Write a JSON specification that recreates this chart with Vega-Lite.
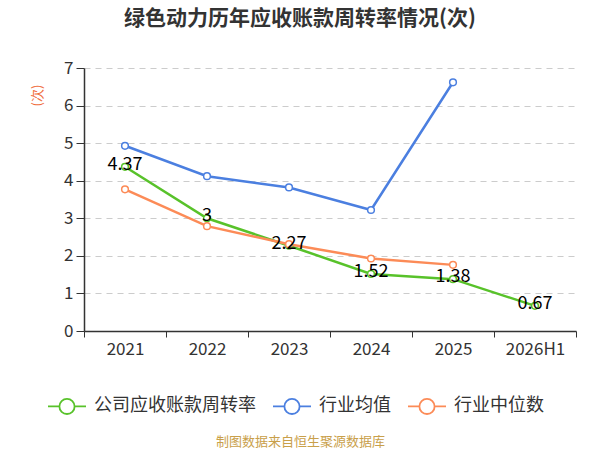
{
  "$schema": "https://vega.github.io/schema/vega-lite/v6.json",
  "autosize": {"type": "none"},
  "padding": {"left": 84, "top": 68, "right": 24, "bottom": 119},
  "width": 492,
  "height": 263,
  "background": "white",
  "title": {
    "text": "绿色动力历年应收账款周转率情况(次)",
    "fontSize": 21,
    "fontWeight": "bold",
    "color": "#333333",
    "font": "Noto Sans CJK SC",
    "anchor": "middle",
    "dx": -30,
    "offset": 30
  },
  "data": {
    "values": [
      {"year": "2021", "series": "公司应收账款周转率", "value": 4.37},
      {"year": "2022", "series": "公司应收账款周转率", "value": 3},
      {"year": "2023", "series": "公司应收账款周转率", "value": 2.27},
      {"year": "2024", "series": "公司应收账款周转率", "value": 1.52},
      {"year": "2025", "series": "公司应收账款周转率", "value": 1.38},
      {"year": "2026H1", "series": "公司应收账款周转率", "value": 0.67},
      {"year": "2021", "series": "行业均值", "value": 4.93},
      {"year": "2022", "series": "行业均值", "value": 4.12},
      {"year": "2023", "series": "行业均值", "value": 3.82},
      {"year": "2024", "series": "行业均值", "value": 3.22},
      {"year": "2025", "series": "行业均值", "value": 6.62},
      {"year": "2021", "series": "行业中位数", "value": 3.77},
      {"year": "2022", "series": "行业中位数", "value": 2.79},
      {"year": "2023", "series": "行业中位数", "value": 2.31},
      {"year": "2024", "series": "行业中位数", "value": 1.93},
      {"year": "2025", "series": "行业中位数", "value": 1.76}
    ]
  },
  "encoding": {
    "x": {
      "field": "year",
      "type": "ordinal",
      "scale": {"paddingInner": 0, "paddingOuter": 0},
      "axis": {
        "title": "制图数据来自恒生聚源数据库",
        "titleColor": "#c9a04a",
        "titleFontSize": 13,
        "titleFontWeight": "normal",
        "titleX": 216,
        "titleY": 110,
        "titleBaseline": "middle",
        "titleAnchor": null,
        "labelAngle": 0,
        "labelFontSize": 17,
        "labelColor": "#333333",
        "labelPadding": 4,
        "tickSize": 6,
        "tickColor": "#333333",
        "tickBand": "extent",
        "domainColor": "#333333",
        "domainWidth": 1.5,
        "grid": false
      }
    },
    "y": {
      "field": "value",
      "type": "quantitative",
      "scale": {"domain": [0, 7], "nice": false},
      "axis": {
        "title": "(次)",
        "titleColor": "#f06b3b",
        "titleFontSize": 13,
        "titleFontWeight": "normal",
        "titleX": -47,
        "titleY": 27,
        "titleAlign": "center",
        "titleBaseline": "middle",
        "titleAnchor": null,
        "values": [0, 1, 2, 3, 4, 5, 6, 7],
        "labelFontSize": 17,
        "labelColor": "#333333",
        "labelPadding": 3,
        "tickSize": 8,
        "tickColor": "#333333",
        "domainColor": "#333333",
        "domainWidth": 1.5,
        "grid": true,
        "gridColor": "#cccccc",
        "gridDash": [6, 5],
        "gridWidth": 1.2
      }
    },
    "color": {
      "field": "series",
      "type": "nominal",
      "scale": {
        "domain": ["公司应收账款周转率", "行业均值", "行业中位数"],
        "range": ["#58c22a", "#4b7fe0", "#fc8b57"]
      },
      "legend": {
        "title": null,
        "orient": "none",
        "direction": "horizontal",
        "legendX": -37,
        "legendY": 318,
        "labelFontSize": 18,
        "labelColor": "#333333",
        "labelLimit": 300,
        "labelOffset": 7,
        "columnPadding": 13,
        "symbolType": "M-1,0L-0.4,0M0.4,0L1,0M-0.4,0A0.4,0.4 0 1,0 0.4,0A0.4,0.4 0 1,0 -0.4,0",
        "symbolSize": 1444,
        "symbolFillColor": "white",
        "symbolStrokeWidth": 1.8
      }
    }
  },
  "layer": [
    {
      "mark": {"type": "line", "strokeWidth": 2.5}
    },
    {
      "mark": {"type": "point", "shape": "circle", "filled": false, "fill": "white", "fillOpacity": 1, "size": 45, "strokeWidth": 1.5, "opacity": 1}
    },
    {
      "transform": [{"filter": "datum.series === '公司应收账款周转率'"}],
      "mark": {"type": "text", "fontSize": 18, "color": "black", "baseline": "middle", "dy": -2},
      "encoding": {
        "text": {"field": "value", "type": "quantitative"},
        "color": {"value": "black"}
      }
    }
  ],
  "config": {
    "font": "Noto Sans CJK SC",
    "view": {"stroke": null}
  }
}
